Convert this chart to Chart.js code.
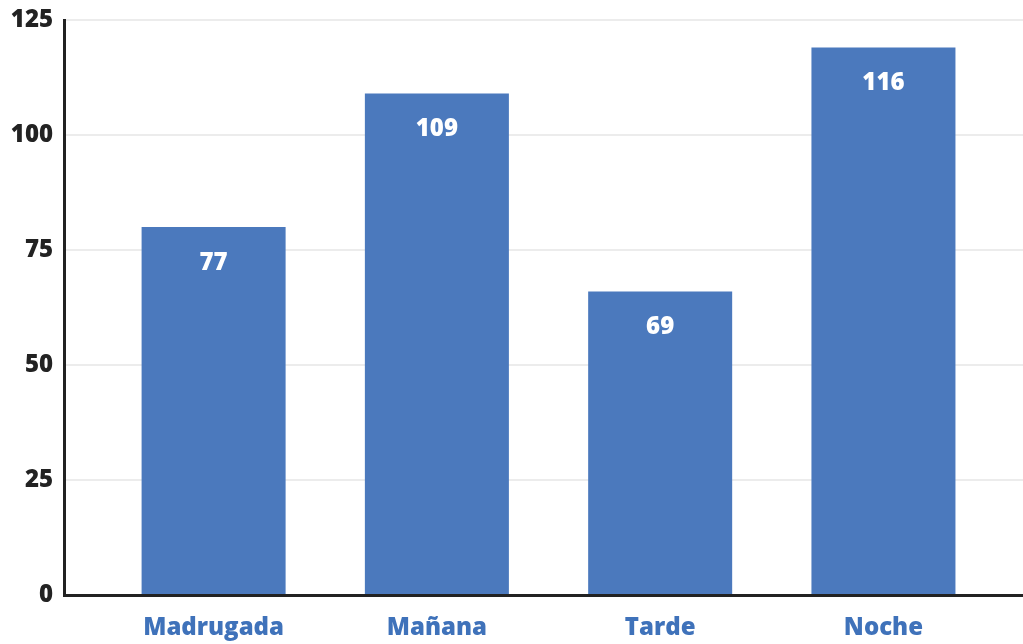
<!DOCTYPE html>
<html>
<head>
<meta charset="utf-8">
<script src="https://cdn.jsdelivr.net/npm/chart.js@4"></script>
<style>
  body { margin: 0; background: #fff; }
  #wrap { width: 1023px; height: 644px; }
</style>
</head>
<body>
<div id="wrap"><canvas id="chart"></canvas></div>
<script>
// Data
const categories = ['Madrugada', 'Mañana', 'Tarde', 'Noche'];
const barHeights = [80, 109, 66, 119];        // bar tops as drawn
const shownValues = ['77', '109', '69', '116']; // numbers printed in the bars
const yTicks = [0, 25, 50, 75, 100, 125];

const barBlue = '#4b79bd';
const labelBlue = '#3f72ba';
const ink = '#222222';
const face = '"Open Sans"';

// Writes the printed number a little below each bar's top
const barText = {
    id: 'barText',
    afterDatasetsDraw(chart) {
        const ctx = chart.ctx;
        const meta = chart.getDatasetMeta(0);
        ctx.save();
        ctx.fillStyle = '#ffffff';
        ctx.font = '800 24px ' + face;
        ctx.textAlign = 'center';
        ctx.textBaseline = 'middle';
        meta.data.forEach((bar, i) => {
            ctx.fillText(shownValues[i], bar.x, bar.y + 36);
        });
        ctx.restore();
    }
};

const ctx = document.getElementById('chart').getContext('2d');
let chart = new Chart(ctx, {
    type: 'bar',
    data: {
        datasets: [{
            data: barHeights.map((v, i) => ({ x: i, y: v })),
            backgroundColor: barBlue,
            borderWidth: 0,
            categoryPercentage: 1,
            barPercentage: 0.645
        }]
    },
    plugins: [barText],
    options: {
        responsive: true,
        maintainAspectRatio: false,
        animation: false,
        layout: { padding: { top: 20, right: 0, bottom: 0, left: 0 } },
        plugins: {
            legend: { display: false },
            tooltip: { enabled: false }
        },
        scales: {
            x: {
                type: 'linear',
                offset: false,
                min: -0.67,
                max: 3.625,
                afterBuildTicks: (axis) => { axis.ticks = categories.map((c, i) => ({ value: i })); },
                afterFit: (axis) => { axis.height = 49; axis.paddingLeft = 0; axis.paddingRight = 0; },
                grid: { display: false, drawTicks: false },
                border: { display: true, color: ink, width: 3 },
                ticks: {
                    callback: (v) => categories[v],
                    color: labelBlue,
                    font: { family: face, size: 24, weight: '800' },
                    padding: 19,
                    maxRotation: 0,
                    autoSkip: false
                }
            },
            y: {
                min: 0,
                max: 125,
                afterBuildTicks: (axis) => { axis.ticks = yTicks.map(v => ({ value: v })); },
                afterFit: (axis) => { axis.width = 64; axis.paddingTop = 0; axis.paddingBottom = 0; },
                grid: { color: '#ececec', lineWidth: 2, drawTicks: false },
                border: { display: true, color: ink, width: 3 },
                ticks: {
                    color: ink,
                    font: { family: face, size: 24, weight: '800' },
                    padding: 11
                }
            }
        }
    }
});
</script>
</body>
</html>
